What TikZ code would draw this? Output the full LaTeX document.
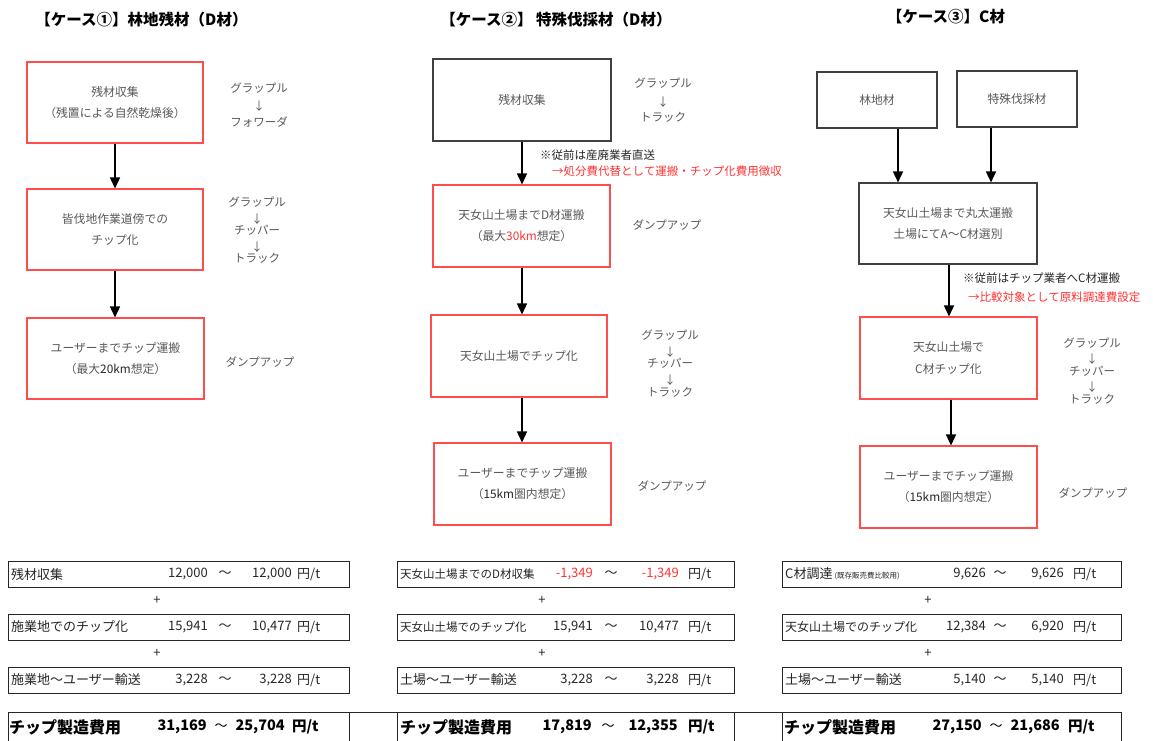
\documentclass[tikz,border=0pt]{standalone}
\usepackage{fontspec}
\setmainfont{Noto Sans CJK JP}
\usetikzlibrary{arrows.meta,calc}
\definecolor{boxred}{RGB}{255,77,77}
\definecolor{boxgray}{RGB}{64,64,64}
\definecolor{txtgray}{RGB}{89,89,89}
\definecolor{notered}{RGB}{255,51,51}
\definecolor{tblk}{RGB}{38,38,38}
\newcommand{\boxfont}{\fontsize{11.8pt}{21pt}\selectfont}
\newcommand{\sidefont}{\fontsize{11.5pt}{14pt}\selectfont}
\newcommand{\hdrfont}{\fontsize{15.5pt}{18pt}\selectfont\bfseries}
\newcommand{\tblfont}{\fontsize{13pt}{15pt}\selectfont}
\newcommand{\tblsmall}{\fontsize{11.5pt}{14pt}\selectfont}
\newcommand{\tbltiny}{\fontsize{7.5pt}{9pt}\selectfont}
\newcommand{\tblbold}{\fontsize{16pt}{18pt}\selectfont\bfseries}
\newcommand{\tblnum}{\fontsize{14.5pt}{18pt}\selectfont\bfseries}
\newcommand{\notefont}{\fontsize{11.5pt}{14pt}\selectfont}
\begin{document}
\begin{tikzpicture}[x=1pt,y=-1pt,
  fbox/.style={draw=boxred,line width=1.1pt,inner sep=0pt,align=center,text=txtgray,font=\boxfont},
  gbox/.style={fbox,draw=boxgray},
  arr/.style={-{Triangle[width=10pt,length=11pt]},line width=1.5pt,black},
  side/.style={text=txtgray,font=\sidefont,inner sep=0pt},
  hdr/.style={font=\hdrfont,inner sep=0pt,text=black},
  trow/.style={draw=tblk,line width=0.9pt,minimum height=26pt,inner sep=0pt},
  tl/.style={anchor=west,inner sep=0pt,text=tblk,font=\tblfont},
  tn/.style={anchor=east,inner sep=0pt,text=tblk,font=\tblfont},
  tc/.style={anchor=center,inner sep=0pt,text=tblk,font=\tblfont},
  tu/.style={anchor=west,inner sep=0pt,text=tblk,font=\tblfont},
  tlb/.style={anchor=west,inner sep=0pt,text=black,font=\tblbold},
  tnb/.style={anchor=east,inner sep=0pt,text=black,font=\tblnum},
  tcb/.style={anchor=center,inner sep=0pt,text=black,font=\tblfont},
  tub/.style={anchor=west,inner sep=0pt,text=black,font=\tblnum},
  ebox/.style={draw=tblk,line width=0.9pt,minimum height=40pt,inner sep=0pt,anchor=north},
  note/.style={anchor=west,inner sep=0pt,text=tblk,font=\notefont},
  rnote/.style={anchor=west,inner sep=0pt,text=notered,font=\notefont},
]
\useasboundingbox (0,0) rectangle (1153,740);
\fill[white] (0,0) rectangle (1153,740);

% headers
\node[hdr] (h1) at (141.5,20) {【ケース①】林地残材（D材）};
\node[hdr] (h2) at (556,20) {【ケース②】 特殊伐採材（D材）};
\node[hdr] (h3) at (946,17) {【ケース③】C材};

% ---------- case 1 ----------
\node[fbox,minimum width=176pt,minimum height=81pt] (c1a) at (115,102.5) {残材収集\\（残置による自然乾燥後）};
\node[fbox,minimum width=176pt,minimum height=81pt] (c1b) at (115,229.5) {皆伐地作業道傍での\\チップ化};
\node[fbox,minimum width=177pt,minimum height=81pt] (c1c) at (115.5,358.5) {ユーザーまでチップ運搬\\（最大\textcolor{black!85}{20km}想定）};
\draw[arr] (c1a.south) -- (c1a.south |- c1b.north);
\draw[arr] (c1b.south) -- (c1b.south |- c1c.north);

\node[side] (s1a) at (259,88) {グラップル};
\node[side] (s1b) at (259,106) {↓};
\node[side] (s1c) at (259,122) {フォワーダ};
\node[side] (s1d) at (257,202) {グラップル};
\node[side] (s1e) at (257,219) {↓};
\node[side] (s1f) at (257,230) {チッパー};
\node[side] (s1g) at (257,247) {↓};
\node[side] (s1h) at (257,258) {トラック};
\node[side] (s1i) at (260,362) {ダンプアップ};

% ---------- case 2 ----------
\node[gbox,minimum width=178pt,minimum height=82pt] (c2a) at (522,100) {残材収集};
\node[fbox,minimum width=177pt,minimum height=82pt] (c2b) at (521.5,226) {天女山土場までD材運搬\\（最大\textcolor{notered}{30km}想定）};
\node[fbox,minimum width=176pt,minimum height=82pt] (c2c) at (519,356) {天女山土場でチップ化};
\node[fbox,minimum width=177pt,minimum height=82pt] (c2d) at (522.5,484) {ユーザーまでチップ運搬\\（\textcolor{black!85}{15km}圏内想定）};
\coordinate (k2) at (522,0);
\draw[arr] (k2 |- c2a.south) -- (k2 |- c2b.north);
\draw[arr] (k2 |- c2b.south) -- (k2 |- c2c.north);
\draw[arr] (k2 |- c2c.south) -- (k2 |- c2d.north);
\node[note] (n2a) at (540,155) {※従前は産廃業者直送};
\node[rnote] (n2b) at (552,171) {→処分費代替として運搬・チップ化費用徴収};

\node[side] (s2a) at (663,83) {グラップル};
\node[side] (s2b) at (663,102) {↓};
\node[side] (s2c) at (663,117) {トラック};
\node[side] (s2d) at (667,225) {ダンプアップ};
\node[side] (s2e) at (670,335) {グラップル};
\node[side] (s2f) at (670,352) {↓};
\node[side] (s2g) at (670,363) {チッパー};
\node[side] (s2h) at (670,380) {↓};
\node[side] (s2i) at (670,392) {トラック};
\node[side] (s2j) at (672,486) {ダンプアップ};

% ---------- case 3 ----------
\node[gbox,minimum width=120pt,minimum height=56pt] (c3a) at (877,100) {林地材};
\node[gbox,minimum width=120pt,minimum height=56pt] (c3b) at (1017,99) {特殊伐採材};
\node[gbox,minimum width=178pt,minimum height=81pt] (c3c) at (948,223.5) {天女山土場まで丸太運搬\\土場にてA～C材選別};
\node[fbox,minimum width=177pt,minimum height=82pt] (c3d) at (948.5,358) {天女山土場で\\C材チップ化};
\node[fbox,minimum width=177pt,minimum height=82pt] (c3e) at (948.5,487) {ユーザーまでチップ運搬\\（\textcolor{black!85}{15km}圏内想定）};
\coordinate (k3a) at (898,0);
\coordinate (k3b) at (991,0);
\coordinate (k3c) at (949,0);
\coordinate (k3d) at (951,0);
\draw[arr] (k3a |- c3a.south) -- (k3a |- c3c.north);
\draw[arr] (k3b |- c3b.south) -- (k3b |- c3c.north);
\draw[arr] (k3c |- c3c.south) -- (k3c |- c3d.north);
\draw[arr] (k3d |- c3d.south) -- (k3d |- c3e.north);
\node[note] (n3a) at (963,278) {※従前はチップ業者へC材運搬};
\node[rnote] (n3b) at (968,297) {→比較対象として原料調達費設定};

\node[side] (s3a) at (1092,343) {グラップル};
\node[side] (s3b) at (1092,359) {↓};
\node[side] (s3c) at (1092,371) {チッパー};
\node[side] (s3d) at (1092,387) {↓};
\node[side] (s3e) at (1092,399) {トラック};
\node[side] (s3f) at (1093,493) {ダンプアップ};

% ---------- tables ----------
% case 1
\node[trow,minimum width=341pt] (t1a) at (178.5,574) {};
\node[trow,minimum width=341pt] (t1b) at (178.5,627) {};
\node[trow,minimum width=341pt] (t1c) at (178.5,680) {};
\node[tl] (t1al) at (11,574) {残材収集};
\node[tn] (t1an) at (208,574) {12,000};
\node[tc] (t1at) at (225,574) {～};
\node[tn] (t1am) at (292,574) {12,000};
\node[tu] (t1au) at (297,574) {円/t};
\node[tc] (t1p1) at (157,600) {+};
\node[tl] (t1bl) at (11,627) {施業地でのチップ化};
\node[tn] (t1bn) at (208,627) {15,941};
\node[tc] (t1bt) at (225,627) {～};
\node[tn] (t1bm) at (292,627) {10,477};
\node[tu] (t1bu) at (297,627) {円/t};
\node[tc] (t1p2) at (157,653) {+};
\node[tl] (t1cl) at (11,680) {施業地～ユーザー輸送};
\node[tn] (t1cn) at (208,680) {3,228};
\node[tc] (t1ct) at (225,680) {～};
\node[tn] (t1cm) at (292,680) {3,228};
\node[tu] (t1cu) at (297,680) {円/t};

% case 2
\node[trow,minimum width=337pt] (t2a) at (565.5,574) {};
\node[trow,minimum width=337pt] (t2b) at (565.5,627) {};
\node[trow,minimum width=337pt] (t2c) at (565.5,680) {};
\node[tl,font=\tblsmall] (t2al) at (400,574) {天女山土場までのD材収集};
\node[tn,text=notered] (t2an) at (593,574) {-1,349};
\node[tc] (t2at) at (611,574) {～};
\node[tn,text=notered] (t2am) at (679,574) {-1,349};
\node[tu] (t2au) at (688,574) {円/t};
\node[tc] (t2p1) at (542,600) {+};
\node[tl,font=\tblsmall] (t2bl) at (400,627) {天女山土場でのチップ化};
\node[tn] (t2bn) at (593,627) {15,941};
\node[tc] (t2bt) at (611,627) {～};
\node[tn] (t2bm) at (679,627) {10,477};
\node[tu] (t2bu) at (688,627) {円/t};
\node[tc] (t2p2) at (542,653) {+};
\node[tl] (t2cl) at (400,680) {土場～ユーザー輸送};
\node[tn] (t2cn) at (593,680) {3,228};
\node[tc] (t2ct) at (611,680) {～};
\node[tn] (t2cm) at (679,680) {3,228};
\node[tu] (t2cu) at (688,680) {円/t};

% case 3
\node[trow,minimum width=339pt] (t3a) at (951.5,574) {};
\node[trow,minimum width=339pt] (t3b) at (951.5,627) {};
\node[trow,minimum width=339pt] (t3c) at (951.5,680) {};
\node[tl] (t3al) at (785,574) {C材調達\,{\tbltiny(既存販売費比較用)}};
\node[tn] (t3an) at (986,574) {9,626};
\node[tc] (t3at) at (1000,574) {～};
\node[tn] (t3am) at (1064,574) {9,626};
\node[tu] (t3au) at (1073,574) {円/t};
\node[tc] (t3p1) at (928,600) {+};
\node[tl,font=\fontsize{12pt}{14pt}\selectfont] (t3bl) at (785,627) {天女山土場でのチップ化};
\node[tn] (t3bn) at (986,627) {12,384};
\node[tc] (t3bt) at (1000,627) {～};
\node[tn] (t3bm) at (1064,627) {6,920};
\node[tu] (t3bu) at (1073,627) {円/t};
\node[tc] (t3p2) at (928,653) {+};
\node[tl] (t3cl) at (785,680) {土場～ユーザー輸送};
\node[tn] (t3cn) at (986,680) {5,140};
\node[tc] (t3ct) at (1000,680) {～};
\node[tn] (t3cm) at (1064,680) {5,140};
\node[tu] (t3cu) at (1073,680) {円/t};

% totals row
\node[ebox,minimum width=341pt] (t1e) at (178.5,712) {};
\node[ebox,minimum width=337pt] (t2e) at (565.5,712) {};
\node[ebox,minimum width=339pt] (t3e) at (951.5,712) {};
\draw[tblk,line width=0.9pt] (t1e.north west) -- (t3e.north east);
\node[tlb] (t1el) at (9,727) {チップ製造費用};
\node[tnb] (t1en) at (207,727) {31,169};
\node[tcb] (t1et) at (221,727) {～};
\node[tnb] (t1em) at (285,727) {25,704};
\node[tub] (t1eu) at (292,727) {円/t};
\node[tlb] (t2el) at (400,727) {チップ製造費用};
\node[tnb] (t2en) at (592,727) {17,819};
\node[tcb] (t2et) at (608,727) {～};
\node[tnb] (t2em) at (678,727) {12,355};
\node[tub] (t2eu) at (688,727) {円/t};
\node[tlb] (t3el) at (784,727) {チップ製造費用};
\node[tnb] (t3en) at (982,727) {27,150};
\node[tcb] (t3et) at (996,727) {～};
\node[tnb] (t3em) at (1060,727) {21,686};
\node[tub] (t3eu) at (1068,727) {円/t};
\end{tikzpicture}
\end{document}
